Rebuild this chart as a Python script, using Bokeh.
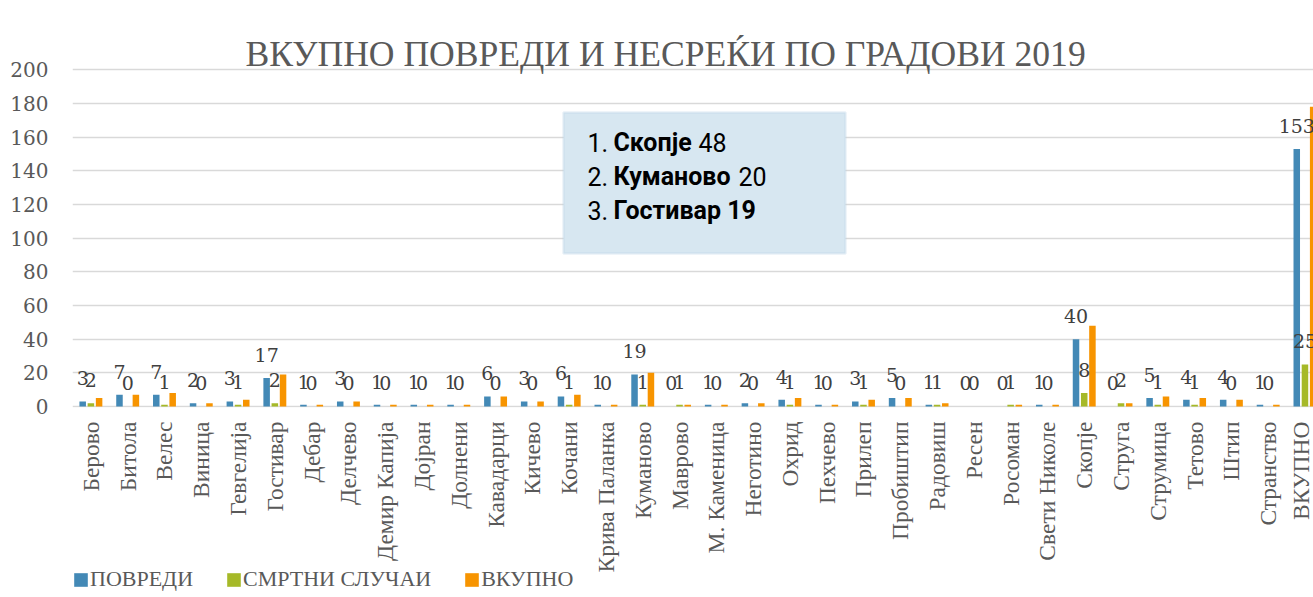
import math
from bokeh.plotting import figure
from bokeh.layouts import column
from bokeh.models import (ColumnDataSource, Range1d, FixedTicker, Legend, LegendItem,
                          Label, BoxAnnotation)
from bokeh.core.properties import value
from bokeh.embed import file_html
from bokeh.resources import INLINE
from bokeh.transform import dodge

# ---------------- data ----------------
cities = ["Берово", "Битола", "Велес", "Виница", "Гевгелија", "Гостивар", "Дебар", "Делчево",
          "Демир Капија", "Дојран", "Долнени", "Кавадарци", "Кичево", "Кочани", "Крива Паланка",
          "Куманово", "Маврово", "М. Каменица", "Неготино", "Охрид", "Пехчево", "Прилеп",
          "Пробиштип", "Радовиш", "Ресен", "Росоман", "Свети Николе", "Скопје", "Струга",
          "Струмица", "Тетово", "Штип", "Странство", "ВКУПНО"]
injuries = [3, 7, 7, 2, 3, 17, 1, 3, 1, 1, 1, 6, 3, 6, 1, 19, 0, 1, 2, 4, 1, 3, 5, 1, 0, 0, 1,
            40, 0, 5, 4, 4, 1, 153]
deaths = [2, 0, 1, 0, 1, 2, 0, 0, 0, 0, 0, 0, 0, 1, 0, 1, 1, 0, 0, 1, 0, 1, 0, 1, 0, 1, 0,
          8, 2, 1, 1, 0, 0, 25]
totals = [5, 7, 8, 2, 4, 19, 1, 3, 1, 1, 1, 6, 3, 7, 1, 20, 1, 1, 2, 5, 1, 4, 5, 2, 0, 1, 1,
          48, 2, 6, 5, 4, 1, 178]
series_names = ["ПОВРЕДИ", "СМРТНИ СЛУЧАИ", "ВКУПНО"]
y_ticks = [0, 20, 40, 60, 80, 100, 120, 140, 160, 180, 200]
title_text = "ВКУПНО ПОВРЕДИ И НЕСРЕЌИ ПО ГРАДОВИ 2019"

# top-3 cities by total (excluding the overall total)
ranked = sorted([(t, c) for c, t in zip(cities[:-1], totals[:-1])], reverse=True)[:3]

# ---------------- styling / layout ----------------
BLUE, GREEN, ORANGE = "#4389b6", "#a6b928", "#f79400"
COLORS = [BLUE, GREEN, ORANGE]
GRID = "#d9d9d9"
AX_TXT = "#595959"
LBL_TXT = "#404040"

W = 1313
H_MAIN, H_LEG, LEG_TOP = 592, 24, 568
FL, FT = 72, 14                     # frame borders (px)
FB = H_MAIN - 407
PX_X = 36.79                        # px per category
PX_Y = 1.6835                       # px per unit
X0 = -0.5
X1 = X0 + (W - FL) / PX_X
Y0 = -(H_MAIN - FB - 406) / PX_Y    # value 0 sits at y = 406 px
Y1 = (406 - FT) / PX_Y
BASE_FIX = 0.37                     # baseline correction (em) for the svg text


def px2x(px):  # page px -> data x
    return X0 + (px - FL) / PX_X


def px2y(py):  # page px -> data y
    return (406 - py) / PX_Y


idx = list(range(len(cities)))
src = ColumnDataSource(dict(
    idx=idx, inj=injuries, dea=deaths, tot=totals,
    inj_l=[str(v) for v in injuries], dea_l=[str(v) for v in deaths],
))

p = figure(width=W, height=H_MAIN, x_range=Range1d(X0, X1), y_range=Range1d(Y0, Y1),
           output_backend="svg", toolbar_location=None,
           min_border_left=FL, min_border_top=FT, min_border_bottom=FB, min_border_right=0)
p.outline_line_color = None
p.background_fill_color = "white"
p.border_fill_color = "white"

OFF, BW = 0.223, 0.177
p.vbar(x=dodge("idx", -OFF, range=p.x_range), top="inj", bottom=0, width=BW,
       fill_color=BLUE, line_color=None, source=src)
p.vbar(x=dodge("idx", 0.0, range=p.x_range), top="dea", bottom=0, width=BW,
       fill_color=GREEN, line_color=None, source=src)
p.vbar(x=dodge("idx", OFF, range=p.x_range), top="tot", bottom=0, width=BW,
       fill_color=ORANGE, line_color=None, source=src)

for xo, col in ((-OFF, "inj"), (0.0, "dea")):
    p.text(x=dodge("idx", xo, range=p.x_range), y=col, text=col + "_l", source=src,
           text_align="center", text_baseline="alphabetic", y_offset=-16 - BASE_FIX * 19,
           text_font=value("DejaVu Serif"), text_font_size="19px", text_color=LBL_TXT)

# axes
p.yaxis.ticker = FixedTicker(ticks=y_ticks)
p.xaxis.ticker = FixedTicker(ticks=idx)
p.xaxis.major_label_overrides = {i: c for i, c in zip(idx, cities)}
for ax in (p.xaxis[0], p.yaxis[0]):
    ax.axis_line_color = None
    ax.major_tick_line_color = None
    ax.minor_tick_line_color = None
    ax.major_tick_out = 0
    ax.major_tick_in = 0
    ax.minor_tick_out = 0
    ax.major_label_text_color = AX_TXT
p.yaxis.major_label_text_font = "DejaVu Serif"
p.yaxis.major_label_text_font_size = "20px"
p.yaxis.major_label_standoff = 24
p.xaxis.major_label_text_font = "Liberation Serif"
p.xaxis.major_label_text_font_size = "23.5px"
p.xaxis.major_label_orientation = math.pi / 2
p.xaxis.major_label_standoff = 14
p.xgrid.visible = False
p.ygrid.grid_line_color = GRID
p.ygrid.grid_line_width = 1.5

# title (inside the top of the frame, above the 200 gridline)
TITLE_PX = 35.6
p.add_layout(Label(x=px2x(245), y=px2y(67 - BASE_FIX * TITLE_PX), text=title_text,
                   text_font="Liberation Serif", text_font_size=f"{TITLE_PX}px",
                   text_color=AX_TXT, text_baseline="alphabetic"))

# text box
p.add_layout(BoxAnnotation(left=px2x(563), right=px2x(845), top=px2y(112), bottom=px2y(253),
                           fill_color="#d7e7f1", fill_alpha=1.0, line_color="#b5d2e4",
                           line_width=2.5, level="overlay"))
BOX_PX = 25
line_base = [151.7, 185.0, 219.0]
num_x = [698, 738, 0]
TB = dict(text_font="Roboto", text_font_size=f"{BOX_PX}px", text_color="black",
          text_baseline="alphabetic", level="overlay")
for k, ((tot, city), by) in enumerate(zip(ranked, line_base)):
    yy = px2y(by - BASE_FIX * BOX_PX)
    p.add_layout(Label(x=px2x(587), y=yy, text=f"{k + 1}.", **TB))
    if k < 2:
        p.add_layout(Label(x=px2x(613), y=yy, text=city, text_font_style="bold", **TB))
        p.add_layout(Label(x=px2x(num_x[k]), y=yy, text=str(tot), **TB))
    else:
        p.add_layout(Label(x=px2x(613), y=yy, text=f"{city} {tot}",
                           text_font_style="bold", **TB))

# legend strip (own small transparent plot overlapping the bottom of the chart)
pl = figure(width=W, height=H_LEG, x_range=Range1d(0, 1), y_range=Range1d(0, 1),
            output_backend="svg", toolbar_location=None, min_border=0,
            x_axis_location=None, y_axis_location=None)
pl.grid.visible = False
pl.outline_line_color = None
pl.background_fill_alpha = 0.0
pl.border_fill_alpha = 0.0
pl.margin = (LEG_TOP - H_MAIN, 0, 0, 0)
legend_renderers = [pl.quad(left="idx", right="idx", top=0, bottom=0, fill_color=c,
                            line_color=None, source=src) for c in COLORS]
legend = Legend(items=[LegendItem(label=n, renderers=[r])
                       for n, r in zip(series_names, legend_renderers)],
                orientation="horizontal", location=(0, 0), border_line_color=None,
                background_fill_alpha=0.0, glyph_width=17, glyph_height=17, label_standoff=1,
                spacing=32, padding=0, margin=0, label_text_font="Liberation Serif",
                label_text_font_size="22px", label_text_color=AX_TXT)
pl.add_layout(legend)

layout = column(p, pl, spacing=0)
open("out.html", "w").write(file_html(layout, INLINE))
